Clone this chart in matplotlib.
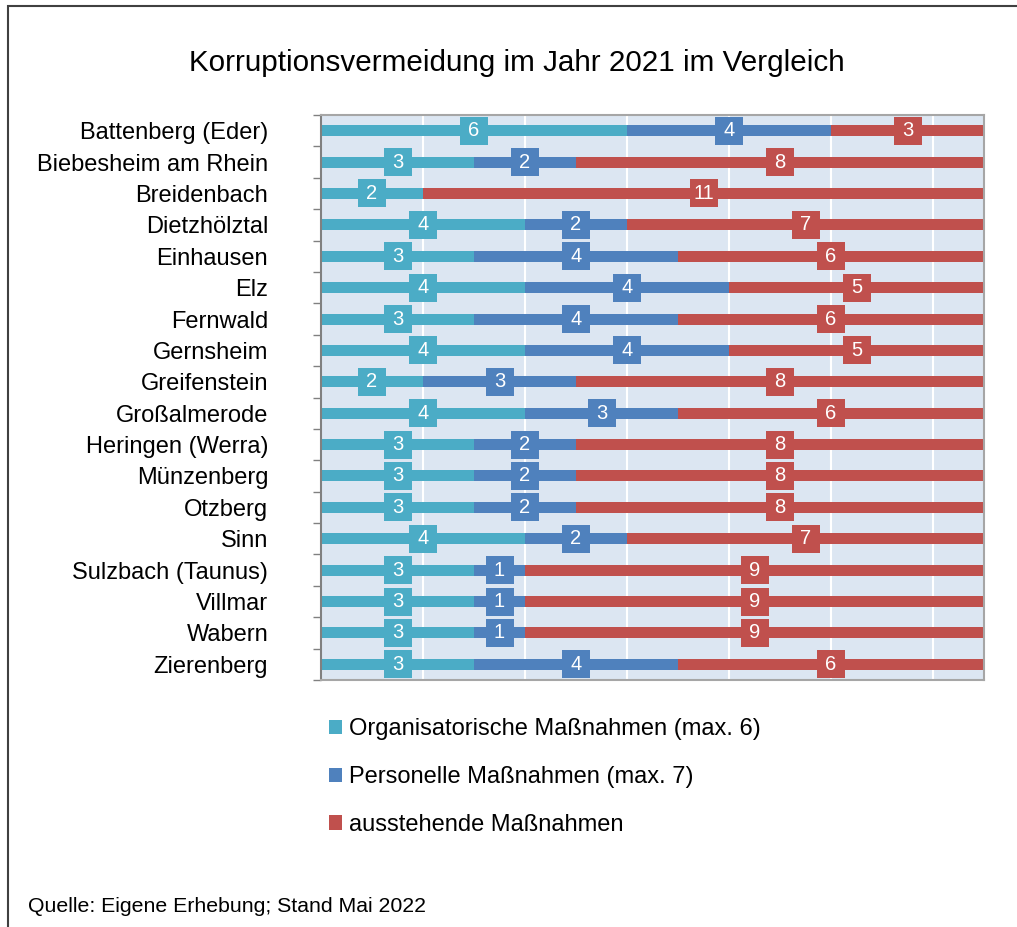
import matplotlib
matplotlib.use("Agg")
import matplotlib.pyplot as plt
import numpy as np
from matplotlib.patches import Patch, Rectangle

plt.rcParams['font.family'] = ['Liberation Sans', 'DejaVu Sans']

# Data
gemeinden = ["Battenberg (Eder)", "Biebesheim am Rhein", "Breidenbach", "Dietzhölztal",
             "Einhausen", "Elz", "Fernwald", "Gernsheim", "Greifenstein", "Großalmerode",
             "Heringen (Werra)", "Münzenberg", "Otzberg", "Sinn", "Sulzbach (Taunus)",
             "Villmar", "Wabern", "Zierenberg"]
organisatorisch = [6, 3, 2, 4, 3, 4, 3, 4, 2, 4, 3, 3, 3, 4, 3, 3, 3, 3]
personell = [4, 2, 0, 2, 4, 4, 4, 4, 3, 3, 2, 2, 2, 2, 1, 1, 1, 4]
ausstehend = [3, 8, 11, 7, 6, 5, 6, 5, 8, 6, 8, 8, 8, 7, 9, 9, 9, 6]

serien_namen = ["Organisatorische Maßnahmen (max. 6)", "Personelle Maßnahmen (max. 7)",
                "ausstehende Maßnahmen"]
farben = ["#4BACC6", "#4F81BD", "#C0504D"]

fig = plt.figure(figsize=(10.17, 9.27), dpi=100)
ax = fig.add_axes([321 / 1017, 1 - 680 / 927, 663 / 1017, 565 / 927])
ax.set_facecolor("#DCE6F2")

y = np.arange(len(gemeinden))
links = np.zeros(len(gemeinden))
for werte, farbe in zip([organisatorisch, personell, ausstehend], farben):
    werte = np.array(werte, dtype=float)
    ax.barh(y, werte, left=links, height=0.35, color=farbe, zorder=2)
    mitte = links + werte / 2
    sichtbar = werte > 0
    ax.scatter(mitte[sichtbar], y[sichtbar], marker="s", s=420, color=farbe,
               linewidths=0, zorder=3)
    for xm, ym, w in zip(mitte[sichtbar], y[sichtbar], werte[sichtbar]):
        ax.text(xm, ym, f"{int(w)}", color="white", fontsize=14.5,
                ha="center", va="center", zorder=4)
    links = links + werte

ax.set_xlim(0, 13)
ax.set_ylim(len(gemeinden) - 0.5, -0.5)
ax.set_xticks(np.arange(0, 14, 2))
ax.set_xticklabels([])
ax.tick_params(axis="x", length=0)
ax.grid(axis="x", color="white", linewidth=1.5, zorder=1)
ax.set_axisbelow(True)

ax.set_yticks(y)
ax.set_yticklabels(gemeinden, fontsize=17)
ax.tick_params(axis="y", which="major", length=0, pad=38)
ax.set_yticks(np.arange(-0.5, len(gemeinden), 1), minor=True)
ax.tick_params(axis="y", which="minor", length=6, color="#808080", width=1)

for seite in ["top", "right", "bottom"]:
    ax.spines[seite].set_color("#A6A6A6")
    ax.spines[seite].set_linewidth(1.5)
ax.spines["left"].set_color("#808080")
ax.spines["left"].set_linewidth(1.5)

fig.text(517 / 1017, 1 - 63 / 927, "Korruptionsvermeidung im Jahr 2021 im Vergleich",
         fontsize=21.3, ha="center", va="center")

handles = [Patch(facecolor=f, edgecolor="none") for f in farben]
fig.legend(handles, serien_namen, loc="upper left", bbox_to_anchor=(329 / 1017, 1 - 718 / 927),
           frameon=False, fontsize=17, handlelength=0.55, handleheight=0.55,
           handletextpad=0.3, labelspacing=1.1, borderpad=0, borderaxespad=0)

fig.text(28 / 1017, 1 - 907 / 927, "Quelle: Eigene Erhebung; Stand Mai 2022",
         fontsize=15.3, ha="left", va="center")

# Rahmen um die Grafik
fig.patches.append(Rectangle((8 / 1017, -0.1), 1.2, 1.1 - 6 / 927, transform=fig.transFigure,
                             fill=False, edgecolor="#404040", linewidth=1.5))

fig.savefig("out.png", dpi=100)
